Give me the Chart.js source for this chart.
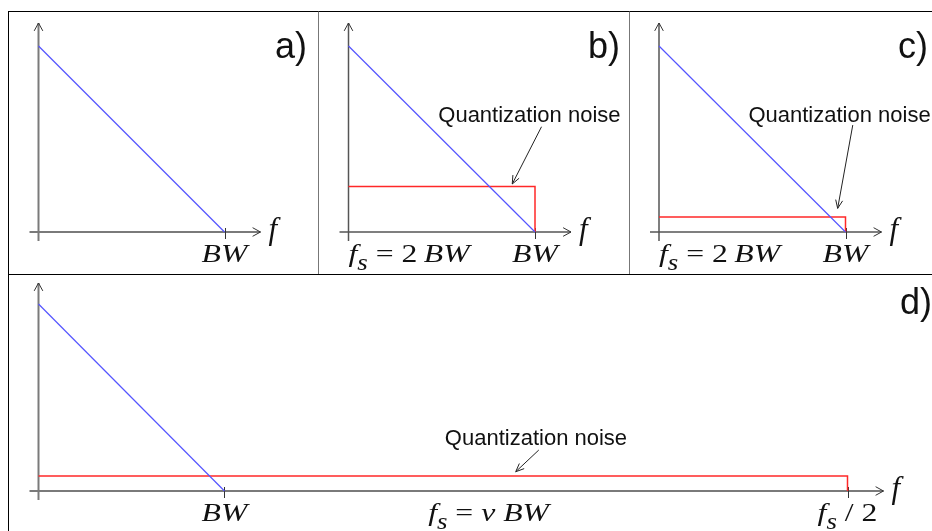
<!DOCTYPE html>
<html>
<head>
<meta charset="utf-8">
<title>Oversampling and quantization noise</title>
<script src="https://cdn.jsdelivr.net/npm/chart.js"></script>
<style>
  body { margin: 0; background: #fff; }
  .panel { position: absolute; box-sizing: border-box; border-top: 1px solid #000; }
  .panel canvas { position: absolute; left: 0; top: 0; }
</style>
</head>
<body>
<div class="panel" style="left:8px;top:11px;width:310px;height:263px;border-left:1px solid #000"><canvas id="chartA" width="309" height="262"></canvas></div>
<div class="panel" style="left:318px;top:11px;width:311px;height:263px;border-left:1px solid #777"><canvas id="chartB" width="310" height="262"></canvas></div>
<div class="panel" style="left:629px;top:11px;width:303px;height:263px;border-left:1px solid #777"><canvas id="chartC" width="302" height="262"></canvas></div>
<div class="panel" style="left:8px;top:274px;width:924px;height:257px;border-left:1px solid #000"><canvas id="chartD" width="923" height="256"></canvas></div>

<script>
  // signal spectrum, frequency in units of BW, amplitude normalised
  const signalFreq = [0, 1];
  const signalAmp  = [1, 0];

  // quantization noise floor for panels b, c, d and where it ends (BW units)
  const noiseLevel = [0.245, 0.08, 0.08];
  const noiseEdge  = [1, 1, 4.35];

  const panelTags  = ['a)', 'b)', 'c)', 'd)'];
  const noiseLabel = 'Quantization noise';

  const BLUE = 'rgb(85,85,255)';
  const RED  = 'rgb(255,40,40)';

  function pts(xs, ys) { return xs.map((x, i) => ({ x, y: ys[i] })); }

  function seg(ctx, x1, y1, x2, y2) {
    ctx.beginPath(); ctx.moveTo(x1, y1); ctx.lineTo(x2, y2); ctx.stroke();
  }

  // open arrow head pointing along (dx, dy) at (x, y)
  function head(ctx, x, y, dx, dy, len, spread) {
    const a = Math.atan2(dy, dx);
    ctx.beginPath();
    ctx.moveTo(x - len * Math.cos(a - spread), y - len * Math.sin(a - spread));
    ctx.lineTo(x, y);
    ctx.lineTo(x - len * Math.cos(a + spread), y - len * Math.sin(a + spread));
    ctx.stroke();
  }

  // runs: [text, italic, subscript]
  function drawMath(ctx, runs, x, base, align, size) {
    const sx = 1.22;
    const fontOf = r => (r[1] ? 'italic ' : '') + (r[2] ? size * 0.85 : size) + 'px "Liberation Serif"';
    let w = 0;
    runs.forEach(r => { ctx.font = fontOf(r); w += ctx.measureText(r[0]).width; });
    let cx = align === 'center' ? -w / 2 : align === 'right' ? -w : 0;
    ctx.save();
    ctx.translate(x, base);
    ctx.scale(sx, 1);
    ctx.fillStyle = '#111';
    ctx.textAlign = 'left';
    ctx.textBaseline = 'alphabetic';
    runs.forEach(r => {
      ctx.font = fontOf(r);
      ctx.fillText(r[0], cx, r[2] ? size * 0.3 : 0);
      cx += ctx.measureText(r[0]).width;
    });
    ctx.restore();
  }

  const sketch = {
    id: 'sketch',
    beforeDatasetsDraw(chart, args, o) {
      const { ctx, scales: { x, y } } = chart;
      const ox = x.getPixelForValue(0), oy = y.getPixelForValue(0);
      const xEnd = x.getPixelForValue(o.axisEnd), yTop = y.getPixelForValue(1);
      ctx.save();
      ctx.strokeStyle = o.axisColor;
      ctx.lineWidth = o.axisWidth;
      seg(ctx, ox - 9, oy, xEnd + 36, oy);
      seg(ctx, ox, oy + 9, ox, yTop - o.yHead);
      ctx.lineWidth = 1;
      ctx.strokeStyle = '#333';
      head(ctx, xEnd + 36, oy, 1, 0, 9, 0.5);
      head(ctx, ox, yTop - o.yHead, 0, -1, 9, 0.5);
      o.ticks.forEach(t => {
        const px = Math.round(x.getPixelForValue(t)) + 0.5;
        seg(ctx, px, oy - 4, px, oy + 7);
      });
      ctx.restore();
    },
    afterDatasetsDraw(chart, args, o) {
      const { ctx, scales: { x, y }, width } = chart;
      const oy = y.getPixelForValue(0);
      const xEnd = x.getPixelForValue(o.axisEnd);
      ctx.save();
      // panel tag
      ctx.fillStyle = '#111';
      ctx.font = '36px "Liberation Sans"';
      ctx.textAlign = 'right';
      ctx.textBaseline = 'alphabetic';
      ctx.fillText(o.tag, width - o.tagRight, o.tagBase);
      // axis name
      ctx.font = 'italic 31px "Liberation Serif"';
      ctx.textAlign = 'left';
      ctx.fillText('f', xEnd + 44, oy + 7);
      // frequency labels under the axis
      o.marks.forEach(m => drawMath(ctx, m.runs, x.getPixelForValue(m.at), oy + 30, m.align, 26));
      // note with its pointer
      if (o.note) {
        const n = o.note;
        ctx.font = '22px "Liberation Sans"';
        ctx.textAlign = 'center';
        ctx.fillStyle = '#111';
        ctx.fillText(noiseLabel, x.getPixelForValue(n.tx), y.getPixelForValue(n.ty));
        const x1 = x.getPixelForValue(n.from[0]), y1 = y.getPixelForValue(n.from[1]);
        const x2 = x.getPixelForValue(n.to[0]), y2 = y.getPixelForValue(n.to[1]);
        ctx.strokeStyle = '#222';
        ctx.lineWidth = 1;
        seg(ctx, x1, y1, x2, y2);
        head(ctx, x2, y2, x2 - x1, y2 - y1, 9, 0.4);
      }
      ctx.restore();
    }
  };

  const BW  = [['BW', true]];
  const FS2 = [['f', true], ['s', true, true], [' = 2\u2009', false], ['BW', true]];

  function makePanel(id, cfg) {
    const datasets = [{
      data: pts(signalFreq, signalAmp),
      borderColor: BLUE, borderWidth: 1.2
    }];
    if (cfg.noise !== undefined) {
      const lvl = noiseLevel[cfg.noise], edge = noiseEdge[cfg.noise];
      datasets.push({
        data: pts([0, edge, edge], [lvl, lvl, 0]),
        borderColor: RED, borderWidth: 1.5
      });
    }
    datasets.forEach(d => Object.assign(d, { showLine: true, pointRadius: 0, clip: false, fill: false, tension: 0 }));
    return new Chart(document.getElementById(id), {
      type: 'scatter',
      data: { datasets },
      options: {
        responsive: false,
        animation: false,
        events: [],
        layout: { padding: cfg.pad, autoPadding: false },
        scales: {
          x: { type: 'linear', display: false, min: 0, max: cfg.xMax },
          y: { type: 'linear', display: false, min: 0, max: 1 }
        },
        plugins: {
          legend: { display: false },
          tooltip: { enabled: false },
          sketch: cfg.sketch
        }
      },
      plugins: [sketch]
    });
  }

  makePanel('chartA', {
    xMax: 1,
    pad: { left: 29.5, right: 93.5, top: 34, bottom: 42 },
    sketch: {
      tag: panelTags[0], tagRight: 11, tagBase: 46, axisEnd: 1, ticks: [1],
      axisColor: '#7a7a7a', axisWidth: 2, yHead: 23,
      marks: [{ runs: BW, at: 1, align: 'center' }]
    }
  });

  makePanel('chartB', {
    xMax: 1, noise: 0,
    pad: { left: 29.5, right: 94, top: 34, bottom: 42 },
    sketch: {
      tag: panelTags[1], tagRight: 9, tagBase: 46, axisEnd: 1, ticks: [1],
      axisColor: '#555', axisWidth: 1.5, yHead: 23,
      marks: [{ runs: FS2, at: 0, align: 'left' }, { runs: BW, at: 1, align: 'center' }],
      note: { tx: 0.97, ty: 0.59, from: [1.035, 0.566], to: [0.878, 0.258] }
    }
  });

  makePanel('chartC', {
    xMax: 1, noise: 1,
    pad: { left: 29, right: 86.5, top: 34, bottom: 42 },
    sketch: {
      tag: panelTags[2], tagRight: 4, tagBase: 46, axisEnd: 1, ticks: [1],
      axisColor: '#555', axisWidth: 1.5, yHead: 23,
      marks: [{ runs: FS2, at: 0, align: 'left' }, { runs: BW, at: 1, align: 'center' }],
      note: { tx: 0.968, ty: 0.59, from: [1.039, 0.575], to: [0.958, 0.127] }
    }
  });

  makePanel('chartD', {
    xMax: noiseEdge[2], noise: 2,
    pad: { left: 29.5, right: 84.5, top: 29, bottom: 40 },
    sketch: {
      tag: panelTags[3], tagRight: 0, tagBase: 39, axisEnd: noiseEdge[2], ticks: [1, noiseEdge[2]],
      axisColor: '#7a7a7a', axisWidth: 2, yHead: 21,
      marks: [
        { runs: BW, at: 1, align: 'center' },
        { runs: [['f', true], ['s', true, true], [' = ', false], ['v', true], [' BW', true]], at: 2.42, align: 'center' },
        { runs: [['f', true], ['s', true, true], [' / 2', false]], at: noiseEdge[2], align: 'center' }
      ],
      note: { tx: 2.675, ty: 0.246, from: [2.69, 0.219], to: [2.566, 0.103] }
    }
  });
</script>
</body>
</html>
